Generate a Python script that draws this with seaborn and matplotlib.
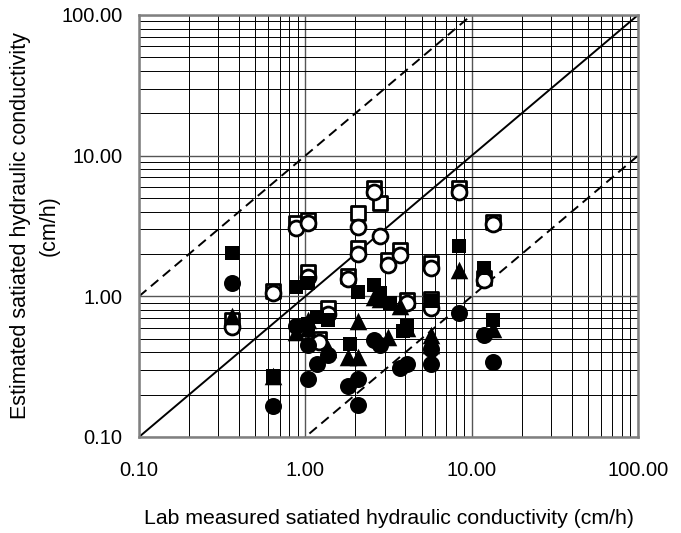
import matplotlib
matplotlib.use("Agg")
import matplotlib.pyplot as plt
import seaborn as sns
import pandas as pd
from matplotlib.ticker import LogLocator, FuncFormatter, NullFormatter

sns.set_theme(style="white")
plt.rcParams['font.family'] = ['Liberation Sans', 'DejaVu Sans']

# ---- data (lab measured x, estimated y), cm/h ----
open_sq_x = [0.36, 0.64, 0.88, 1.04, 1.04, 1.2, 1.36, 1.81, 2.08, 2.08, 2.6, 2.83,
             3.16, 3.73, 4.1, 5.66, 5.66, 8.4, 11.8, 13.4]
open_sq_y = [0.68, 1.1, 3.3, 3.5, 1.48, 0.5, 0.82, 1.4, 3.9, 2.2, 5.9, 4.6,
             1.8, 2.15, 0.94, 1.72, 0.95, 5.9, 1.35, 3.35]

open_ci_x = [0.36, 0.64, 0.88, 1.04, 1.04, 1.2, 1.36, 1.81, 2.08, 2.08, 2.6, 2.83,
             3.16, 3.73, 4.1, 5.66, 5.66, 8.4, 11.8, 13.4]
open_ci_y = [0.61, 1.06, 3.05, 3.3, 1.38, 0.47, 0.75, 1.33, 3.1, 2.0, 5.5, 2.7,
             1.68, 1.98, 0.9, 1.6, 0.82, 5.5, 1.3, 3.25]

fill_sq_x = [0.36, 0.64, 0.88, 1.04, 1.04, 1.18, 1.36, 1.85, 2.08, 2.6, 2.83,
             3.25, 3.85, 4.1, 5.66, 8.4, 11.8, 13.4]
fill_sq_y = [2.02, 0.27, 1.16, 1.24, 0.64, 0.71, 0.68, 0.46, 1.07, 1.2, 1.05,
             0.89, 0.57, 0.62, 0.92, 2.27, 1.6, 0.68]

fill_ci_x = [0.36, 0.64, 0.88, 1.04, 1.04, 1.18, 1.36, 1.81, 2.08, 2.08, 2.6, 2.83,
             3.73, 4.1, 5.66, 5.66, 8.4, 11.8, 13.4]
fill_ci_y = [1.24, 0.165, 0.62, 0.45, 0.26, 0.33, 0.38, 0.23, 0.26, 0.17, 0.49, 0.45,
             0.31, 0.33, 0.33, 0.42, 0.76, 0.53, 0.34]

tri_x = [0.36, 0.64, 0.88, 1.04, 1.04, 1.36, 1.81, 2.08, 2.08, 2.6, 2.83,
         3.16, 3.73, 4.1, 5.66, 5.66, 8.4, 13.4]
tri_y = [0.72, 0.27, 0.56, 0.68, 0.6, 0.42, 0.37, 0.67, 0.37, 0.99, 0.95,
         0.51, 0.86, 0.6, 0.53, 0.45, 1.53, 0.59]

ref_factor = [1.0, 10.0, 0.1]
ref_style = ['-', '--', '--']
tick_vals = [0.1, 1, 10, 100]

fig = plt.figure(figsize=(6.81, 5.33), dpi=100)
ax = fig.add_axes([139/681, 96/533, 499/681, 422/533])
ax.set_xscale('log')
ax.set_yscale('log')
ax.set_xlim(0.1, 100)
ax.set_ylim(0.1, 100)

# grid
ax.set_axisbelow(True)
ax.xaxis.set_major_locator(LogLocator(base=10, numticks=10))
ax.yaxis.set_major_locator(LogLocator(base=10, numticks=10))
ax.xaxis.set_minor_locator(LogLocator(base=10, subs=range(2, 10), numticks=20))
ax.yaxis.set_minor_locator(LogLocator(base=10, subs=range(2, 10), numticks=20))
ax.xaxis.set_minor_formatter(NullFormatter())
ax.yaxis.set_minor_formatter(NullFormatter())
ax.grid(True, which='major', color='#555555', lw=1.0)
ax.grid(True, which='minor', color='black', lw=0.7)
fmt = FuncFormatter(lambda v, _: f"{v:.2f}")
ax.xaxis.set_major_formatter(fmt)
ax.yaxis.set_major_formatter(fmt)
ax.set_xticks(tick_vals)
ax.set_yticks(tick_vals)
ax.tick_params(which='both', length=0)
ax.tick_params(axis='x', which='major', pad=17, labelsize=14.5, colors='black')
ax.tick_params(axis='y', which='major', pad=12, labelsize=14.5, colors='black')
for s in ax.spines.values():
    s.set_color('#808080')
    s.set_linewidth(1.8)

# reference lines
for f, ls in zip(ref_factor, ref_style):
    xs = [0.1, 100]
    ax.plot(xs, [v * f for v in xs], color='black', ls=ls, lw=1.4,
            dashes=(5, 3) if ls == '--' else (None, None), zorder=2)

# points
sns.scatterplot(x=open_sq_x, y=open_sq_y, marker='s', s=105, facecolor='white',
                edgecolor='black', linewidth=2.0, ax=ax, zorder=3)
sns.scatterplot(x=open_ci_x, y=open_ci_y, marker='o', s=115, facecolor='white',
                edgecolor='black', linewidth=2.0, ax=ax, zorder=4)
sns.scatterplot(x=fill_sq_x, y=fill_sq_y, marker='s', s=110, color='black',
                edgecolor='black', linewidth=0, ax=ax, zorder=5)
sns.scatterplot(x=fill_ci_x, y=fill_ci_y, marker='o', s=150, color='black',
                edgecolor='black', linewidth=0, ax=ax, zorder=5)
sns.scatterplot(x=tri_x, y=tri_y, marker='^', s=160, color='black',
                edgecolor='black', linewidth=0, ax=ax, zorder=6)

xl = ax.set_xlabel('Lab measured satiated hydraulic conductivity (cm/h)', fontsize=15.3,
                   color='black')
xl.set_va('center')
ax.xaxis.set_label_coords(0.5, (437 - 519) / 422)
yl = ax.set_ylabel('Estimated satiated hydraulic conductivity\n(cm/h)', fontsize=15.5,
                   color='black', linespacing=1.45)
yl.set_va('center')
ax.yaxis.set_label_coords((35 - 139) / 499, 0.5)

fig.savefig('out.png', dpi=100, facecolor='white')
